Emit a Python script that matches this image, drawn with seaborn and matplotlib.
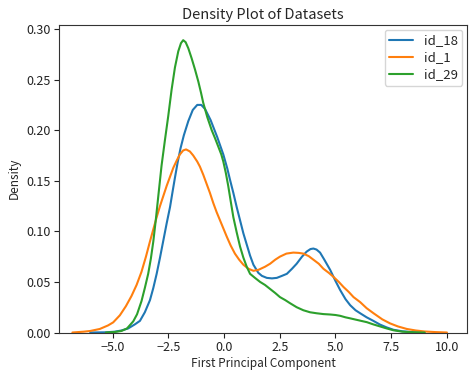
import numpy as np
import pandas as pd
import matplotlib
matplotlib.use("Agg")
import matplotlib.pyplot as plt
import seaborn as sns

# Density curves
labels = ["id_18", "id_1", "id_29"]

x_id18 = [-6.0, -5.3, -4.9, -4.6, -4.3, -4.0, -3.77, -3.55, -3.32, -3.17, -3.02, -2.87, -2.72, -2.57,
          -2.42, -2.30, -2.20, -2.08, -1.95, -1.80, -1.60, -1.40, -1.20, -1.02, -0.85, -0.60, -0.30,
          -0.03, 0.15, 0.27, 0.42, 0.57, 0.72, 0.87, 1.02, 1.17, 1.32, 1.54, 1.70, 1.92, 2.15, 2.37,
          2.60, 2.82, 3.05, 3.26, 3.50, 3.71, 3.88, 4.01, 4.15, 4.31, 4.50, 4.76, 5.00, 5.21, 5.45,
          5.66, 5.90, 6.11, 6.40, 6.70, 7.00, 7.30, 7.60, 8.00, 8.50, 9.0]
d_id18 = [0.0, 0.0002, 0.0008, 0.0020, 0.0040, 0.0080, 0.0115, 0.020, 0.032, 0.044, 0.058, 0.074, 0.091,
          0.108, 0.124, 0.140, 0.153, 0.168, 0.182, 0.195, 0.209, 0.220, 0.225, 0.225, 0.221, 0.210,
          0.193, 0.176, 0.162, 0.151, 0.138, 0.124, 0.111, 0.098, 0.087, 0.076, 0.067, 0.059, 0.056,
          0.054, 0.0535, 0.054, 0.056, 0.058, 0.063, 0.068, 0.075, 0.080, 0.0825, 0.083, 0.082, 0.079,
          0.072, 0.062, 0.051, 0.042, 0.033, 0.027, 0.022, 0.019, 0.015, 0.0115, 0.0078, 0.005, 0.0027,
          0.0012, 0.0003, 0.0]

x_id1 = [-6.8, -6.3, -6.0, -5.57, -5.2, -4.97, -4.67, -4.40, -4.15, -3.92, -3.70, -3.50, -3.32, -3.17,
         -3.02, -2.87, -2.72, -2.57, -2.42, -2.27, -2.12, -1.98, -1.83, -1.70, -1.53, -1.38, -1.20,
         -1.08, -0.93, -0.78, -0.63, -0.48, -0.33, -0.18, -0.03, 0.12, 0.30, 0.49, 0.68, 0.87, 1.10,
         1.32, 1.55, 1.84, 2.07, 2.30, 2.51, 2.80, 3.11, 3.35, 3.56, 3.80, 4.01, 4.25, 4.46, 4.70,
         4.91, 5.15, 5.36, 5.60, 5.81, 6.11, 6.40, 6.71, 7.10, 7.45, 7.80, 8.20, 8.60, 9.00, 9.50, 10.0]
d_id1 = [0.0, 0.0008, 0.0015, 0.0035, 0.007, 0.010, 0.017, 0.026, 0.036, 0.047, 0.060, 0.075, 0.090,
         0.102, 0.114, 0.125, 0.135, 0.145, 0.154, 0.163, 0.170, 0.176, 0.180, 0.181, 0.179, 0.175,
         0.169, 0.164, 0.156, 0.147, 0.138, 0.128, 0.119, 0.111, 0.103, 0.095, 0.086, 0.078, 0.072,
         0.067, 0.063, 0.061, 0.062, 0.065, 0.068, 0.072, 0.075, 0.078, 0.079, 0.0787, 0.078, 0.0755,
         0.072, 0.068, 0.063, 0.059, 0.055, 0.050, 0.045, 0.040, 0.035, 0.030, 0.024, 0.019, 0.013,
         0.009, 0.006, 0.0035, 0.002, 0.001, 0.0004, 0.0]

x_id29 = [-5.3, -4.9, -4.6, -4.35, -4.07, -3.90, -3.70, -3.55, -3.40, -3.28, -3.17, -3.06, -2.95, -2.80,
          -2.65, -2.50, -2.35, -2.20, -2.05, -1.93, -1.83, -1.72, -1.60, -1.45, -1.30, -1.15, -1.03,
          -0.93, -0.75, -0.55, -0.40, -0.26, -0.12, -0.03, 0.08, 0.19, 0.30, 0.42, 0.57, 0.72, 0.87,
          1.02, 1.17, 1.39, 1.62, 1.84, 2.07, 2.30, 2.51, 2.75, 2.96, 3.26, 3.56, 3.86, 4.16, 4.46,
          4.76, 5.00, 5.21, 5.45, 5.66, 6.11, 6.41, 6.70, 7.00, 7.30, 7.60, 8.00, 8.50, 9.0]
d_id29 = [0.0, 0.0005, 0.0015, 0.004, 0.011, 0.018, 0.031, 0.044, 0.058, 0.073, 0.090, 0.111, 0.134,
          0.165, 0.190, 0.214, 0.240, 0.262, 0.278, 0.286, 0.289, 0.287, 0.281, 0.271, 0.260, 0.248,
          0.237, 0.227, 0.213, 0.200, 0.192, 0.184, 0.176, 0.169, 0.158, 0.145, 0.130, 0.114, 0.099,
          0.085, 0.074, 0.065, 0.058, 0.054, 0.050, 0.047, 0.043, 0.039, 0.035, 0.032, 0.029, 0.025,
          0.022, 0.020, 0.019, 0.0182, 0.0178, 0.0173, 0.0165, 0.015, 0.014, 0.0117, 0.0102, 0.008,
          0.006, 0.004, 0.0022, 0.0008, 0.0002, 0.0]

frames = []
for lab, xs, ds in zip(labels, [x_id18, x_id1, x_id29], [d_id18, d_id1, d_id29]):
    frames.append(pd.DataFrame({"x": xs, "Density": ds, "Dataset": lab}))
df = pd.concat(frames, ignore_index=True)

sns.set_style("ticks")
plt.rcParams['font.family'] = ['Noto Sans CJK SC', 'DejaVu Sans']

fig = plt.figure(figsize=(4.70, 3.71), dpi=100)
ax = fig.add_axes([59/470, 1 - 332.5/371, (467-59)/470, (332.5-25)/371])

palette = ["#1f77b4", "#ff7f0e", "#2ca02c"]
sns.lineplot(data=df, x="x", y="Density", hue="Dataset", hue_order=labels,
             palette=palette, sort=False, estimator=None, linewidth=1.5, ax=ax)

ax.set_xlim(-7.4, 10.9)
ax.set_ylim(0, 0.304)
ax.set_xticks([-5.0, -2.5, 0.0, 2.5, 5.0, 7.5, 10.0])
ax.set_yticks([0.0, 0.05, 0.10, 0.15, 0.20, 0.25, 0.30])
ax.set_yticklabels(["0.00", "0.05", "0.10", "0.15", "0.20", "0.25", "0.30"])
ax.tick_params(labelsize=9, colors="#222222", pad=2.5)
ax.set_title("Density Plot of Datasets", fontsize=10.5, pad=4)
ax.set_xlabel("First Principal Component", fontsize=8.5, labelpad=2)
ax.set_ylabel("Density", fontsize=8.5)
for s in ax.spines.values():
    s.set_visible(True)
    s.set_color("#333333")
leg = ax.legend(loc="upper right", fontsize=9.5, frameon=True, handlelength=1.8,
                labelspacing=0.3, borderpad=0.35, borderaxespad=0.35)
leg.set_title(None)

fig.savefig("out.png", dpi=100)
